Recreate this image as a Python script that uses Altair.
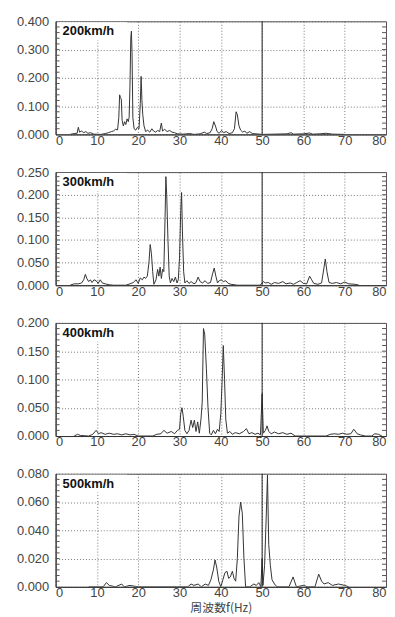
import altair as alt
import pandas as pd

speeds = ["200km/h", "300km/h", "400km/h", "500km/h"]

s200 = [(3.5,0.0),(4.5,0.003),(5.2,0.004),(5.5,0.025),(5.8,0.008),(6.3,0.012),(6.8,0.006),(7.3,0.01),(7.8,0.004),
        (8.5,0.006),(9.2,0.001),(11.0,0.0),(12.0,0.003),(12.8,0.006),(13.5,0.01),(14.0,0.012),(14.5,0.018),(15.0,0.016),
        (15.3,0.06),(15.5,0.14),(15.7,0.13),(15.9,0.125),(16.1,0.05),(16.4,0.03),(16.7,0.045),(17.0,0.035),(17.3,0.055),
        (17.6,0.045),(17.8,0.06),(18.0,0.17),(18.2,0.34),(18.35,0.365),(18.5,0.29),(18.7,0.06),(19.0,0.02),(19.4,0.015),
        (19.8,0.025),(20.2,0.02),(20.5,0.11),(20.7,0.205),(20.9,0.12),(21.1,0.07),(21.4,0.03),(21.8,0.01),(22.3,0.015),
        (22.8,0.008),(23.3,0.02),(23.7,0.012),(24.2,0.008),(24.7,0.014),(25.2,0.01),(25.6,0.04),(25.9,0.012),(26.4,0.018),
        (27.0,0.01),(27.6,0.014),(28.2,0.008),(28.8,0.006),(29.5,0.002),(31.0,0.001),(32.5,0.003),(33.5,0.0),(35.0,0.002),
        (36.0,0.008),(36.6,0.003),(37.4,0.006),(37.9,0.02),(38.3,0.045),(38.7,0.03),(39.1,0.01),(39.6,0.004),(40.2,0.014),
        (40.7,0.006),(41.3,0.01),(42.0,0.003),(42.8,0.006),(43.3,0.02),(43.7,0.08),(44.0,0.07),(44.4,0.03),(44.8,0.015),
        (45.3,0.008),(45.8,0.012),(46.3,0.004),(47.0,0.01),(47.6,0.003),(48.5,0.002),(50.0,0.0),(53.0,0.001),(56.0,0.002),
        (57.0,0.006),(57.6,0.001),(60.0,0.002),(61.5,0.005),(62.2,0.001),(64.0,0.002),(65.5,0.004),(67.0,0.001),(70.0,0.0)]

s300 = [(3.5,0.0),(4.5,0.003),(5.5,0.003),(6.3,0.005),(6.8,0.012),(7.2,0.024),(7.6,0.014),(8.0,0.008),(8.4,0.012),
        (8.8,0.006),(9.3,0.012),(9.8,0.01),(10.3,0.004),(10.8,0.012),(11.3,0.005),(12.0,0.003),(13.0,0.001),(14.0,0.0),
        (17.0,0.0),(18.0,0.003),(18.8,0.006),(19.5,0.012),(20.0,0.004),(20.5,0.016),(21.0,0.012),(21.4,0.018),(21.8,0.015),
        (22.2,0.02),(22.6,0.05),(22.9,0.09),(23.2,0.07),(23.5,0.03),(23.8,0.002),(24.3,0.012),(24.7,0.035),(25.0,0.02),
        (25.3,0.04),(25.6,0.015),(25.9,0.035),(26.2,0.03),(26.5,0.15),(26.7,0.24),(26.9,0.2),(27.2,0.1),(27.5,0.02),
        (27.8,0.005),(28.2,0.015),(28.6,0.008),(29.0,0.018),(29.4,0.005),(29.7,0.012),(30.0,0.06),(30.3,0.165),(30.5,0.205),
        (30.7,0.12),(31.0,0.03),(31.3,0.005),(31.8,0.01),(32.3,0.004),(32.8,0.008),(33.5,0.003),(34.0,0.006),(34.5,0.018),
        (35.0,0.008),(35.6,0.005),(36.2,0.01),(36.8,0.004),(37.5,0.006),(38.0,0.025),(38.4,0.038),(38.8,0.02),(39.2,0.005),
        (39.6,0.01),(40.1,0.012),(40.6,0.008),(41.2,0.01),(41.8,0.004),(42.5,0.002),(44.0,0.0),(49.5,0.0),(50.3,0.008),
        (50.8,0.005),(51.5,0.006),(52.2,0.002),(53.0,0.006),(54.0,0.004),(55.0,0.008),(55.8,0.003),(56.8,0.005),(57.6,0.002),
        (58.4,0.006),(59.2,0.01),(60.0,0.004),(60.8,0.003),(61.5,0.02),(62.0,0.012),(62.5,0.004),(63.5,0.002),(64.4,0.005),
        (65.0,0.04),(65.3,0.058),(65.7,0.03),(66.2,0.006),(67.0,0.004),(68.0,0.006),(69.0,0.003),(70.0,0.007),(71.0,0.003),
        (72.5,0.002),(73.5,0.0)]

s400 = [(4.5,0.0),(5.3,0.003),(6.0,0.001),(8.0,0.0),(9.0,0.003),(9.8,0.01),(10.4,0.004),(11.0,0.006),(12.0,0.003),
        (13.0,0.005),(14.0,0.003),(15.0,0.004),(16.0,0.002),(17.0,0.004),(18.0,0.002),(19.0,0.003),(20.0,0.0),(23.5,0.0),
        (24.5,0.003),(25.5,0.004),(26.2,0.01),(27.0,0.005),(28.0,0.008),(28.8,0.004),(29.5,0.01),(30.0,0.012),(30.3,0.04),
        (30.6,0.05),(30.9,0.035),(31.3,0.01),(31.8,0.004),(32.3,0.01),(32.8,0.028),(33.2,0.015),(33.6,0.028),(34.0,0.008),
        (34.4,0.025),(34.8,0.005),(35.2,0.03),(35.5,0.06),(35.8,0.19),(36.1,0.18),(36.5,0.12),(36.9,0.05),(37.3,0.005),
        (37.7,0.002),(38.2,0.01),(38.7,0.004),(39.2,0.012),(39.6,0.008),(40.0,0.04),(40.3,0.095),(40.6,0.16),(40.9,0.1),
        (41.2,0.03),(41.6,0.005),(42.2,0.008),(42.8,0.003),(43.5,0.006),(44.5,0.004),(45.5,0.008),(46.2,0.013),(46.8,0.004),
        (47.5,0.006),(48.3,0.003),(49.0,0.005),(49.6,0.002),(50.0,0.075),(50.3,0.005),(50.8,0.01),(51.2,0.018),(51.6,0.008),
        (52.2,0.004),(53.0,0.007),(54.0,0.004),(55.0,0.006),(56.0,0.003),(57.0,0.005),(58.0,0.0),(65.5,0.0),(66.5,0.003),
        (67.5,0.004),(68.5,0.003),(69.5,0.005),(70.5,0.003),(71.5,0.004),(72.2,0.012),(73.0,0.004),(73.8,0.002),(75.0,0.0),
        (76.5,0.0),(77.3,0.004),(78.2,0.003),(79.0,0.0)]

s500 = [(8.0,0.0),(11.5,0.0),(12.3,0.003),(13.0,0.001),(14.5,0.0),(16.0,0.002),(16.6,0.0),(18.0,0.001),(20.0,0.0),
        (32.0,0.0),(32.8,0.002),(33.5,0.001),(34.5,0.002),(35.3,0.0),(36.2,0.002),(37.0,0.001),(37.6,0.005),(38.2,0.012),
        (38.6,0.019),(39.0,0.014),(39.5,0.004),(40.0,0.0),(40.5,0.005),(41.0,0.01),(41.5,0.011),(41.9,0.006),(42.3,0.007),
        (42.8,0.011),(43.2,0.006),(43.6,0.004),(44.0,0.02),(44.4,0.05),(44.8,0.06),(45.2,0.052),(45.6,0.02),(46.0,0.0),
        (47.0,0.0),(48.0,0.002),(48.6,0.001),(49.2,0.003),(49.7,0.0),(50.0,0.02),(50.2,0.001),(50.6,0.015),(51.0,0.05),
        (51.3,0.079),(51.6,0.03),(52.0,0.015),(52.4,0.005),(53.0,0.002),(53.6,0.0),(55.0,0.0),(56.5,0.0),(57.5,0.007),
        (58.3,0.0),(60.0,0.001),(61.0,0.0),(62.8,0.0),(63.7,0.009),(64.4,0.004),(65.0,0.002),(66.0,0.003),(67.0,0.001),
        (68.5,0.002),(70.0,0.001),(71.0,0.0)]

series = [s200, s300, s400, s500]
y_max = [0.4, 0.25, 0.2, 0.08]
y_ticks = [[0, 0.1, 0.2, 0.3, 0.4],
           [0, 0.05, 0.1, 0.15, 0.2, 0.25],
           [0, 0.05, 0.1, 0.15, 0.2],
           [0, 0.02, 0.04, 0.06, 0.08]]
minor_step = [0.02, 0.01, 0.01, 0.004]
x_ticks = [0, 10, 20, 30, 40, 50, 60, 70, 80]
marker_freq = [50]

W, H = 333, 114
FONT = "Liberation Sans"


def panel(i, last):
    df = pd.DataFrame(series[i], columns=["f", "a"])
    xscale = alt.Scale(domain=[0, 80], nice=False, zero=False)
    yscale = alt.Scale(domain=[0, y_max[i]], nice=False)
    xaxis = alt.Axis(values=x_ticks, tickCount=20, format="d", grid=True, gridDash=[1, 2], gridColor="#555",
                     gridOpacity=0.8, tickSize=0, labelPadding=0, labelFontSize=13, labelFont=FONT,
                     labelColor="#444", domainColor="#333", labelOverlap=False,
                     titleFont="Noto Sans CJK JP", titleFontSize=12, titleFontWeight="normal",
                     titleColor="#444", titlePadding=3)
    yaxis = alt.Axis(values=y_ticks[i], tickCount=20, format=".3f", grid=True, gridDash=[1, 2], gridColor="#555",
                     gridOpacity=0.8, tickSize=0, labelPadding=7, labelFontSize=13, labelFont=FONT,
                     labelColor="#444", domainColor="#333", minExtent=47, maxExtent=47,
                     labelOverlap=False, title=None)
    xenc = alt.X("f:Q", scale=xscale, axis=xaxis, title=("周波数f(Hz)" if last else None))
    yenc = alt.Y("a:Q", scale=yscale, axis=yaxis)

    n_minor = int(round(y_max[i] / minor_step[i]))
    minor = pd.DataFrame({"a": [k * minor_step[i] for k in range(1, n_minor)]})

    box = alt.Chart(pd.DataFrame({"t": [speeds[i]]})).mark_rect(color="white").encode(
        x=alt.value(2), x2=alt.value(72), y=alt.value(1), y2=alt.value(19))
    line = alt.Chart(df).mark_line(color="#333", strokeWidth=1, clip=True).encode(x=xenc, y=yenc)
    rule = alt.Chart(pd.DataFrame({"f": marker_freq})).mark_rule(color="#222", strokeWidth=1).encode(
        x=alt.X("f:Q", scale=xscale))
    ml = alt.Chart(minor).mark_rule(color="#555").encode(
        y=alt.Y("a:Q", scale=yscale), x=alt.value(0), x2=alt.value(4))
    mr = alt.Chart(minor).mark_rule(color="#555").encode(
        y=alt.Y("a:Q", scale=yscale), x=alt.value(W - 4), x2=alt.value(W))
    label = alt.Chart(pd.DataFrame({"t": [speeds[i]]})).mark_text(
        align="left", baseline="middle", fontWeight="bold", fontSize=13, font=FONT, color="#111").encode(
        text="t:N", x=alt.value(7), y=alt.value(10))
    return alt.layer(box, line, rule, ml, mr, label).properties(width=W, height=H)


chart = alt.vconcat(*[panel(i, i == 3) for i in range(4)], spacing=38, bounds="flush").properties(
    padding={"left": 0, "top": 4, "right": 0, "bottom": 0}
).configure_view(stroke="#555", strokeWidth=1)

chart.save("out.html", embed_options={"renderer": "svg", "actions": False})
